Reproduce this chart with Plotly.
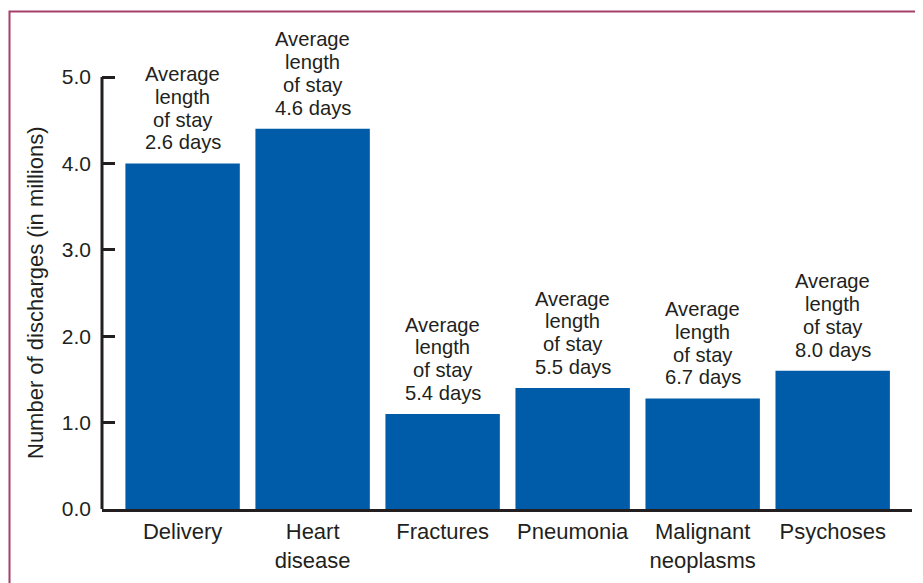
import plotly.graph_objects as go

categories = ["Delivery", "Heart<br>disease", "Fractures", "Pneumonia", "Malignant<br>neoplasms", "Psychoses"]
discharges = [4.0, 4.4, 1.1, 1.4, 1.28, 1.6]
avg_stay = ["2.6", "4.6", "5.4", "5.5", "6.7", "8.0"]
y_ticks = [0, 1, 2, 3, 4, 5]
y_title = "Number of discharges (in millions)"

OFF = 8  # page body margin
W, H = 923 - OFF, 583 - OFF
ML, MR, MT, MB = 102 - OFF, 11, 20 - OFF, 74
PW = W - ML - MR
PH = H - MT - MB

TXT = "#231f20"
BAR = "#005ca9"
FRAME = "#a63f6a"
FONT = "Liberation Sans, Arial, Helvetica, sans-serif"
FS = 22
FS_ANN = 20.2
FS_TICK = 21

# page pixel -> paper coords
def px_x(p):
    return (p - OFF - ML) / PW
def px_y(p):
    return (H - MB - (p - OFF)) / PH

fig = go.Figure()
fig.add_trace(go.Bar(
    x=categories, y=discharges,
    marker=dict(color=BAR, line=dict(width=0)),
    hoverinfo="skip",
))

LINE_H = 22.8
for c, v, s in zip(categories, discharges, avg_stay):
    lines = ["Average", "length", "of stay", f"{s} days"]
    for k, ln in enumerate(reversed(lines)):
        fig.add_annotation(
            x=c, y=v, xref="x", yref="y",
            text=ln, showarrow=False, yanchor="middle", xanchor="center",
            yshift=21 + k * LINE_H, borderpad=0,
            font=dict(size=FS_ANN, color=TXT, family=FONT),
        )

# y axis title centred on the 0-5 axis
fig.add_annotation(
    x=px_x(35), y=(y_ticks[0] + y_ticks[-1]) / 2, xref="paper", yref="y",
    text=y_title, textangle=-90, showarrow=False,
    xanchor="center", yanchor="middle",
    font=dict(size=FS, color=TXT, family=FONT),
)

# y axis line from 0 to 5 only
fig.add_shape(type="line", xref="x domain", yref="y",
              x0=0, x1=0, y0=0, y1=y_ticks[-1],
              line=dict(color=TXT, width=3), layer="above")

# frame
fig.add_shape(type="path", xref="paper", yref="paper",
              path=f"M {px_x(9.5)} {px_y(600)} L {px_x(9.5)} {px_y(11.5)} L {px_x(940)} {px_y(11.5)}",
              line=dict(color=FRAME, width=2), layer="above")

fig.update_layout(
    width=W, height=H,
    margin=dict(l=ML, r=MR, t=MT, b=MB, pad=0),
    paper_bgcolor="white", plot_bgcolor="white",
    bargap=0.12,
    showlegend=False,
    font=dict(family=FONT, color=TXT, size=FS),
    xaxis=dict(
        range=[-0.62, 5.61],
        showline=True, linecolor=TXT, linewidth=3,
        ticks="", showgrid=False, zeroline=False,
        tickfont=dict(size=FS, color=TXT),
        ticklabelstandoff=1,
    ),
    yaxis=dict(
        range=[0, PH / 86.4],
        tickvals=y_ticks, ticktext=[f"{t:.1f}" for t in y_ticks],
        ticks="inside", ticklen=13, tickwidth=3, tickcolor=TXT,
        showline=False, showgrid=False, zeroline=False,
        tickfont=dict(size=FS_TICK, color=TXT),
        ticklabelstandoff=10,
    ),
)

fig.write_html("out.html")
